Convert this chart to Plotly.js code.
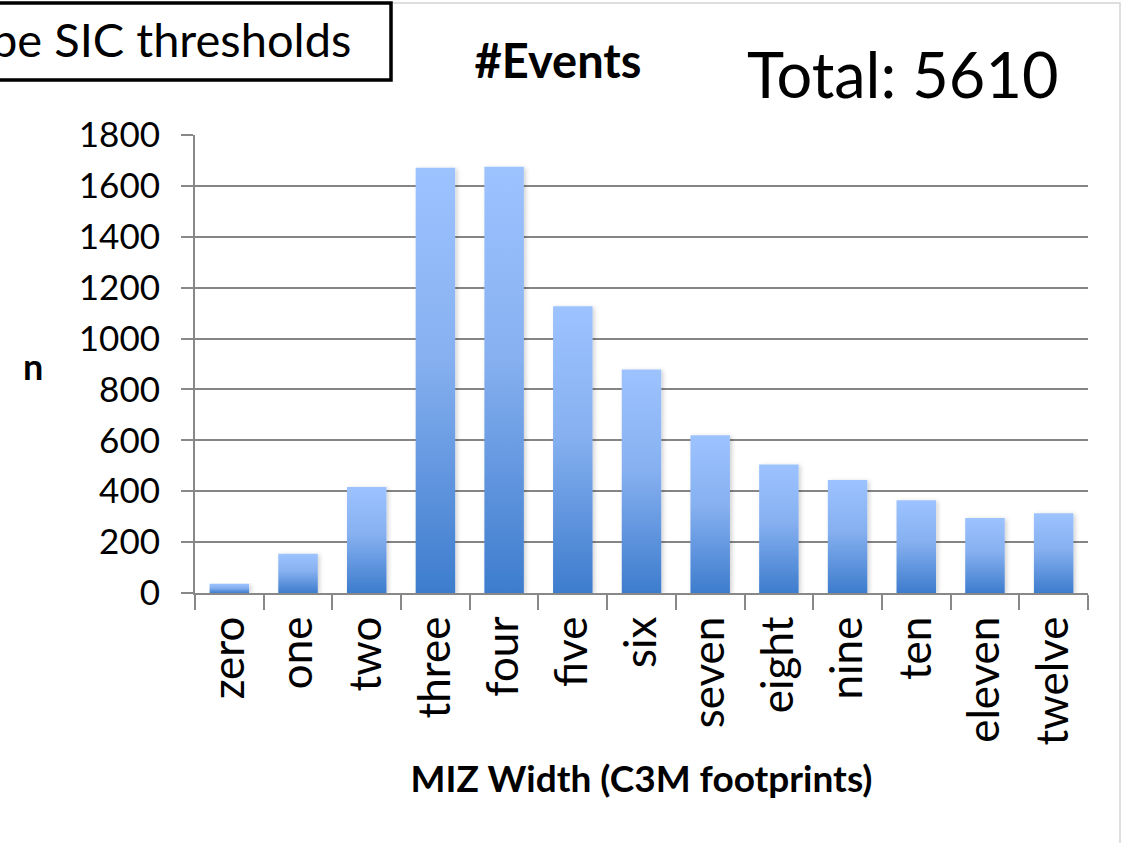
<!DOCTYPE html>
<html>
<head>
<meta charset="utf-8">
<script src="https://cdn.plot.ly/plotly-3.0.1.min.js"></script>
<style>
  html, body { margin: 0; padding: 0; background: #ffffff; }
  #chart { width: 1127px; height: 843px; }
</style>
</head>
<body>
<div id="chart"></div>
<script>
// ---- data ----
const categories = ["zero", "one", "two", "three", "four", "five", "six",
                    "seven", "eight", "nine", "ten", "eleven", "twelve"];
const eventCounts = [36, 154, 417, 1671, 1675, 1127, 878, 620, 505, 444, 365, 295, 313];
const yTickValues = [0, 200, 400, 600, 800, 1000, 1200, 1400, 1600, 1800];
const chartTitle = "#Events";
const totalLabel = "Total: 5610";
const boxLabel = "pe SIC thresholds";
const xAxisTitle = "MIZ Width (C3M footprints)";
const yAxisTitle = "n";

const W = 1127, H = 843;
const L = 195, R = 39, T = 135, B = 250;
const pw = W - L - R, ph = H - T - B;
const px = v => (v - L) / pw;          // page pixel -> paper x
const py = v => (H - B - v) / ph;      // page pixel -> paper y

const FONT = "Lato, 'Open Sans', sans-serif";

const trace = {
  type: "bar",
  x: categories,
  y: eventCounts,
  marker: { color: "#6e9fe6", line: { width: 0 } },
  hoverinfo: "x+y"
};

const layout = {
  width: W, height: H,
  margin: { l: L, r: R, t: T, b: B, pad: 0 },
  paper_bgcolor: "#ffffff",
  plot_bgcolor: "#ffffff",
  showlegend: false,
  bargap: 0.425,
  font: { family: FONT, color: "#000000" },
  title: {
    text: "<b>" + chartTitle + "</b>",
    font: { family: FONT, size: 47, color: "#000000" },
    x: px(558), xref: "paper", xanchor: "center",
    y: 1 - 62 / H, yref: "container", yanchor: "middle"
  },
  xaxis: {
    type: "category",
    tickangle: -90,
    tickfont: { family: FONT, size: 44, color: "#000000" },
    ticks: "outside", tickson: "boundaries", ticklen: 15, tickwidth: 2, tickcolor: "#888888",
    showline: true, linecolor: "#888888", linewidth: 2,
    showgrid: false, zeroline: false,
    ticklabelstandoff: 4,
    title: { text: "<b>" + xAxisTitle + "</b>", font: { family: FONT, size: 37, color: "#000000" }, standoff: 22 },
    automargin: false,
    fixedrange: true
  },
  yaxis: {
    range: [0, 1800],
    tickvals: yTickValues,
    ticktext: yTickValues.map(String),
    tickfont: { family: FONT, size: 35, color: "#000000" },
    ticks: "outside", ticklen: 12, tickwidth: 2, tickcolor: "#888888",
    ticklabelstandoff: 14,
    showline: true, linecolor: "#888888", linewidth: 2,
    showgrid: true, gridcolor: "#858585", gridwidth: 2,
    zeroline: false,
    automargin: false,
    fixedrange: true
  },
  annotations: [
    {
      text: "<b>" + yAxisTitle + "</b>",
      xref: "paper", yref: "paper", x: px(33), y: py(366),
      xanchor: "center", yanchor: "middle", showarrow: false,
      font: { family: FONT, size: 36, color: "#000000" }
    },
    {
      text: totalLabel,
      xref: "paper", yref: "paper", x: px(1060), y: py(73),
      xanchor: "right", yanchor: "middle", showarrow: false,
      font: { family: FONT, size: 63, color: "#000000" }
    },
    {
      text: boxLabel,
      xref: "paper", yref: "paper", x: px(353), y: py(39),
      xanchor: "right", yanchor: "middle", showarrow: false,
      font: { family: FONT, size: 47, color: "#000000" }
    }
  ],
  shapes: [
    { type: "rect", xref: "paper", yref: "paper",
      x0: px(-20), x1: px(1120), y0: py(860), y1: py(3),
      line: { color: "#d4d4d4", width: 1.5 }, fillcolor: "rgba(0,0,0,0)", layer: "below" },
    { type: "rect", xref: "paper", yref: "paper",
      x0: px(-20), x1: px(391), y0: py(80), y1: py(3),
      line: { color: "#000000", width: 3.5 }, fillcolor: "rgba(0,0,0,0)", layer: "above" }
  ]
};

Plotly.newPlot("chart", [trace], layout, { staticPlot: true, displayModeBar: false }).then(gd => {
  const svg = gd.querySelector("svg.main-svg");
  const NS = "http://www.w3.org/2000/svg";
  let defs = svg.querySelector("defs");
  if (!defs) { defs = document.createElementNS(NS, "defs"); svg.insertBefore(defs, svg.firstChild); }
  const grad = document.createElementNS(NS, "linearGradient");
  grad.setAttribute("id", "barGrad");
  grad.setAttribute("x1", "0"); grad.setAttribute("y1", "0");
  grad.setAttribute("x2", "0"); grad.setAttribute("y2", "1");
  [["0%", "#9dc3ff"], ["45%", "#86b0f0"], ["100%", "#3d7ccd"]].forEach(([o, c]) => {
    const s = document.createElementNS(NS, "stop");
    s.setAttribute("offset", o); s.setAttribute("stop-color", c);
    grad.appendChild(s);
  });
  defs.appendChild(grad);
  const filt = document.createElementNS(NS, "filter");
  filt.setAttribute("id", "barShadow");
  filt.setAttribute("x", "-20%"); filt.setAttribute("y", "-5%");
  filt.setAttribute("width", "140%"); filt.setAttribute("height", "110%");
  const ds = document.createElementNS(NS, "feDropShadow");
  ds.setAttribute("dx", "2"); ds.setAttribute("dy", "1");
  ds.setAttribute("stdDeviation", "2");
  ds.setAttribute("flood-color", "#000000"); ds.setAttribute("flood-opacity", "0.18");
  filt.appendChild(ds);
  defs.appendChild(filt);
  gd.querySelectorAll(".barlayer .point path").forEach(p => {
    p.style.fill = "url(#barGrad)";
    p.style.fillOpacity = "1";
    p.setAttribute("filter", "url(#barShadow)");
  });
});
</script>
</body>
</html>
